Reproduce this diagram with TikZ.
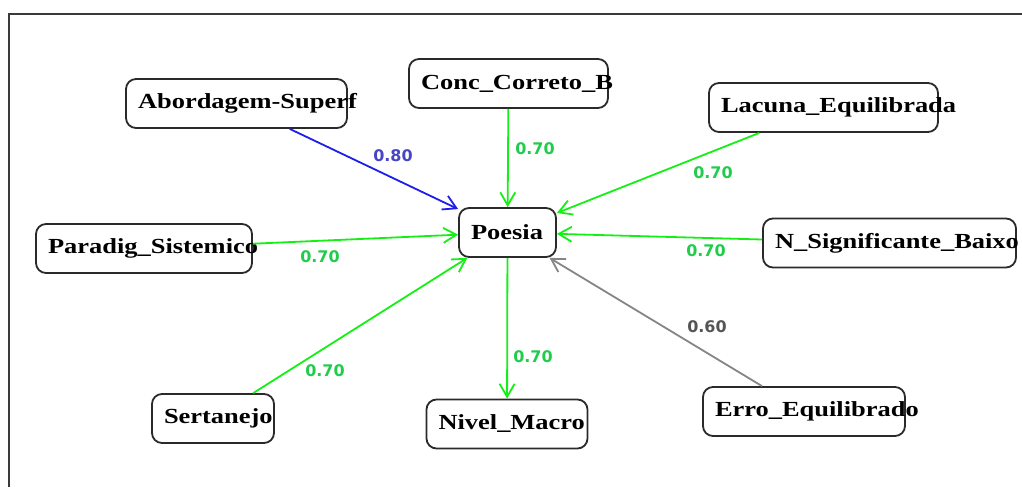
\documentclass[tikz,border=0pt]{standalone}
\usepackage{fontspec}
\usepackage{xcolor}
\usetikzlibrary{arrows.meta}
\newfontfamily\statefont{Liberation Serif}[FakeStretch=1.23]
\newfontfamily\weightfont{DejaVu Sans}
\definecolor{framegrey}{HTML}{3A3A3A}
\definecolor{boxgrey}{HTML}{2A2A2A}
\definecolor{linkgreen}{HTML}{14F014}
\definecolor{linkblue}{HTML}{1E1EEB}
\definecolor{linkgrey}{HTML}{858585}
\definecolor{wgreen}{HTML}{20CC4C}
\definecolor{wblue}{HTML}{4646C4}
\definecolor{wgrey}{HTML}{555555}
\tikzset{
  state/.style={
    draw=boxgrey, line width=1.8pt, rounded corners=10pt,
    minimum height=49pt, inner xsep=12pt, inner ysep=0pt,
    font={\statefont\bfseries\fontsize{21.5}{24}\selectfont},
  },
  link/.style ={-{Straight Barb[length=13pt,width=15pt]}, line width=1.8pt},
  glink/.style={link, draw=linkgreen},
  blink/.style={link, draw=linkblue},
  klink/.style={link, draw=linkgrey},
  weight/.style={font={\weightfont\bfseries\fontsize{16}{16}\selectfont},
                 inner sep=1pt},
}
% box text is set flush left in a fixed width, so long labels run past the right edge
\newcommand{\lbox}[2]{\makebox[#1][l]{#2}}

\begin{document}
\begin{tikzpicture}[x=1pt, y=-1pt]
\useasboundingbox (0,0) rectangle (1022,487);
\draw[framegrey, line width=1.4pt] (1022,14) -- (9,14) -- (9,487);

% ------------------------------------------------ nodes
\node[state] (poesia)  at (507.5,232.5) {\lbox{73pt}{Poesia}};
\node[state] (abord)   at (236.5,103.5) {\lbox{197pt}{Abordagem-Superf}};
\node[state] (conc)    at (508.5,83.5)  {\lbox{175pt}{Conc\_Correto\_B}};
\node[state] (lacuna)  at (823.5,107.5) {\lbox{205pt}{Lacuna\_Equilibrada}};
\node[state] (paradig) at (144,248.5)   {\lbox{192pt}{Paradig\_Sistemico}};
\node[state] (nsig)    at (889.5,243)   {\lbox{229pt}{N\_Significante\_Baixo}};
\node[state] (sert)    at (213,418.5)   {\lbox{98pt}{Sertanejo}};
\node[state] (nivel)   at (507,424)     {\lbox{137pt}{Nivel\_Macro}};
\node[state] (erro)    at (804,411.5)   {\lbox{178pt}{Erro\_Equilibrado}};

% ------------------------------------------------ links
\draw[blink] (abord)   -- (poesia);
\draw[glink] (conc)    -- (poesia);
\draw[glink] (lacuna)  -- (poesia);
\draw[glink] (paradig) -- (poesia);
\draw[glink] (nsig)    -- (poesia);
\draw[glink] (sert)    -- (poesia);
\draw[glink] (poesia)  -- (nivel);
\draw[klink] (erro)    -- (poesia);

% ------------------------------------------------ weights
\node[weight, text=wblue]  (wabord)   at (393,156) {0.80};
\node[weight, text=wgreen] (wconc)    at (535,149) {0.70};
\node[weight, text=wgreen] (wlacuna)  at (713,173) {0.70};
\node[weight, text=wgreen] (wparadig) at (320,257) {0.70};
\node[weight, text=wgreen] (wnsig)    at (706,251) {0.70};
\node[weight, text=wgreen] (wsert)    at (325,371) {0.70};
\node[weight, text=wgreen] (wnivel)   at (533,357) {0.70};
\node[weight, text=wgrey]  (werro)    at (707,327) {0.60};

\end{tikzpicture}
\end{document}
